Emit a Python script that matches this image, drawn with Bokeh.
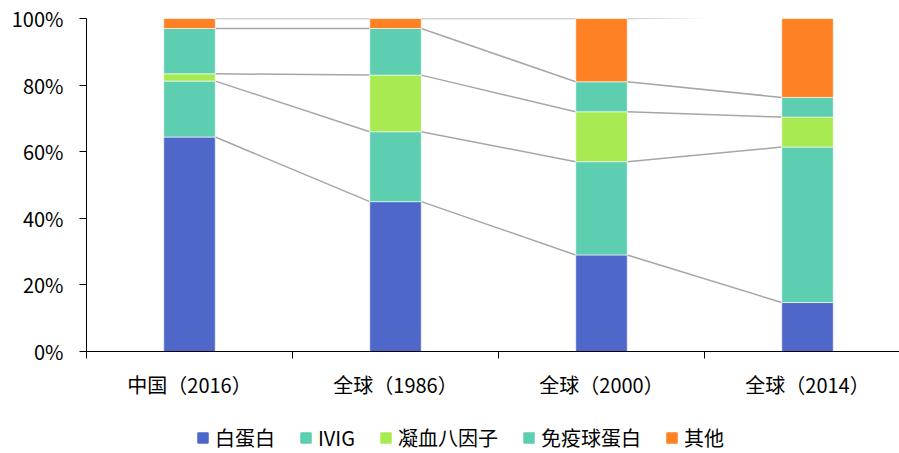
import numpy as np
from bokeh.plotting import figure
from bokeh.layouts import column
from bokeh.models import (Range1d, FixedTicker, Legend, LegendItem, ColumnDataSource,
                          PrintfTickFormatter, CustomJSTickFormatter)
from bokeh.embed import file_html
from bokeh.resources import INLINE

# Share of plasma product sales (%) by market / year
categories = ["中国（2016）", "全球（1986）", "全球（2000）", "全球（2014）"]
series_names = ["白蛋白", "IVIG", "凝血八因子", "免疫球蛋白", "其他"]
albumin = [64.4, 45.0, 29.0, 14.7]
ivig = [16.8, 21.0, 28.0, 46.7]
factor_viii = [2.2, 17.0, 15.0, 9.0]
immunoglobulin = [13.6, 14.0, 9.0, 5.9]
other = [3.0, 3.0, 19.0, 24.4]
y_ticks = [0, 20, 40, 60, 80, 100]

colors = ["#4E67C8", "#5DCEB0", "#A8EA52", "#5DCEB0", "#FE8124"]
FONT = "Noto Sans CJK SC"

W, H = 899, 453
CHART_H = 410
LEFT = 86
TOP = 18
BOTTOM = 59
CAT_PX = 206          # pixel width of one category slot
BAR_W = 0.25          # bar width in category units

keys = ["s0", "s1", "s2", "s3", "s4"]
values = [albumin, ivig, factor_viii, immunoglobulin, other]
xs = [i + 0.5 for i in range(len(categories))]
data = {"x": xs}
for k, v in zip(keys, values):
    data[k] = v
source = ColumnDataSource(data)

p = figure(width=W, height=CHART_H,
           output_backend="svg", toolbar_location=None,
           x_range=Range1d(0, (W - LEFT) / CAT_PX), y_range=Range1d(0, 100),
           min_border_left=LEFT, min_border_right=0, min_border_top=TOP,
           min_border_bottom=BOTTOM)
p.outline_line_color = None
p.xgrid.visible = False
p.ygrid.visible = False
p.background_fill_color = "white"
p.border_fill_color = "white"

# connector lines between the cumulative levels of neighbouring bars
cum = np.cumsum(np.array(values), axis=0)  # shape (series, categories)
x0, y0, x1, y1 = [], [], [], []
for i in range(len(categories) - 1):
    for lvl in range(cum.shape[0]):
        x0.append(xs[i] + BAR_W / 2)
        x1.append(xs[i + 1] - BAR_W / 2)
        y0.append(cum[lvl, i])
        y1.append(cum[lvl, i + 1])
p.segment(x0=x0, y0=y0, x1=x1, y1=y1, line_color="#A6A6A6", line_width=1.5)

p.vbar_stack(keys, x="x", width=BAR_W, color=colors, source=source,
             line_color="white", line_width=0.6)

# y axis
ya = p.yaxis[0]
ya.ticker = FixedTicker(ticks=y_ticks)
ya.formatter = PrintfTickFormatter(format="%d%%")
ya.minor_tick_line_color = None
ya.major_tick_out = 7
ya.major_tick_in = 0
ya.major_label_standoff = 16
ya.axis_line_color = "black"
ya.major_tick_line_color = "black"
ya.major_label_text_font = FONT
ya.major_label_text_font_size = "20px"
ya.major_label_text_color = "black"

# x axis: labels centred in the slots, tick marks on the slot boundaries
xa = p.xaxis[0]
xa.ticker = FixedTicker(ticks=xs, minor_ticks=list(range(len(categories) + 1)))
xa.formatter = CustomJSTickFormatter(args=dict(labels=categories),
                                     code="const i = Math.floor(tick); return labels[i] ?? '';")
xa.major_tick_out = 0
xa.major_tick_in = 0
xa.minor_tick_out = 7
xa.minor_tick_in = 0
xa.minor_tick_line_color = "black"
xa.axis_line_color = "black"
xa.major_label_standoff = 11
xa.major_label_text_font = FONT
xa.major_label_text_font_size = "20px"
xa.major_label_text_color = "black"

# legend strip underneath the chart; hidden renderers provide the swatches
lg = figure(width=W, height=H - CHART_H, output_backend="svg", toolbar_location=None,
            x_range=Range1d(0, 1), y_range=Range1d(0, 1),
            min_border_left=0, min_border_right=0, min_border_top=0, min_border_bottom=0)
lg.axis.visible = False
lg.grid.visible = False
lg.outline_line_color = None
lg.border_fill_color = "white"
swatches = [lg.vbar(x="x", top=k, source=source, width=BAR_W, color=c, visible=False)
            for k, c in zip(keys, colors)]

legend = Legend(items=[LegendItem(label=n, renderers=[r]) for n, r in zip(series_names, swatches)],
                orientation="horizontal", location=(110, 1),
                label_text_font=FONT, label_text_font_size="20px", label_text_color="black",
                glyph_width=13, glyph_height=13, label_standoff=6, spacing=24,
                border_line_color=None, padding=0, margin=0,
                background_fill_alpha=0)
lg.add_layout(legend, "center")

layout = column(p, lg, spacing=0)
open("out.html", "w").write(file_html(layout, INLINE))
